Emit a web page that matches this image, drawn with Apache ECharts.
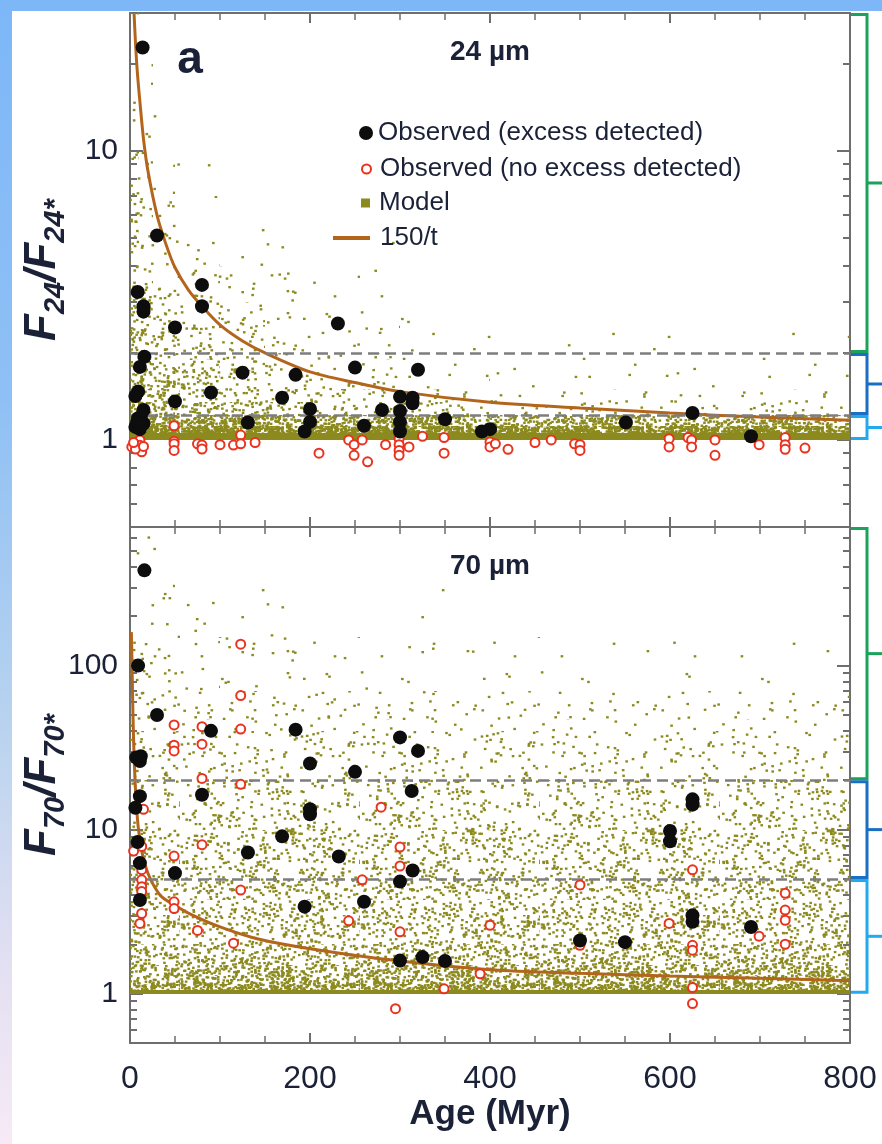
<!DOCTYPE html>
<html>
<head>
<meta charset="utf-8">
<script src="https://cdn.jsdelivr.net/npm/echarts@6.0.0/dist/echarts.min.js"></script>
<style>
  html, body { margin: 0; padding: 0; }
  body { width: 882px; height: 1144px; position: relative; overflow: hidden;
    background: linear-gradient(180deg, #7db7f8 0%, #8fc0f5 35%, #b6d2ef 62%, #e4e0f2 85%, #f6eaf6 100%); }
  #paper { position: absolute; left: 12px; top: 11px; width: 870px; height: 1133px; background: #fff; }
  #main { position: absolute; left: 0; top: 0; width: 882px; height: 1144px; }
</style>
</head>
<body>
<div id="paper"></div>
<div id="main"></div>
<script>
// ---- data: [age (Myr), flux ratio] ----
var obs24Excess = [[14,22.8],[30,5.1],[8.5,3.25],[15,2.9],[15,2.78],[80,3.44],[80,2.9],[50,2.45],[231,2.53],
  [16,1.94],[11,1.79],[125,1.71],[184,1.68],[250,1.78],[320,1.75],[9,1.47],[6,1.42],[50,1.36],[90,1.46],
  [169,1.40],[300,1.41],[314,1.40],[314,1.34],[15,1.27],[9,1.19],[12,1.2],[15,1.14],[8,1.15],[6,1.11],[11,1.09],
  [13,1.13],[131,1.15],[200,1.28],[200,1.155],[194,1.07],[280,1.27],[260,1.12],[300,1.26],[300,1.155],[300,1.07],
  [350,1.18],[391,1.07],[400,1.09],[551,1.15],[625,1.24],[690,1.03]];
var obs24NoExcess = [[11,1.0],[11,0.958],[13,0.91],[2,0.946],[6,0.93],[4,0.98],[15,0.95],[49,1.12],[49,0.99],
  [49,0.97],[49,0.92],[75,0.97],[80,0.96],[80,0.93],[100,0.963],[115,0.96],[123,1.04],[123,0.97],[139,0.98],
  [210,0.90],[243,1.0],[249,0.963],[249,0.885],[258,1.0],[264,0.84],[284,0.963],[299,1.01],[299,0.963],[299,0.92],
  [299,0.885],[310,0.946],[325,1.03],[349,1.02],[349,0.90],[400,0.984],[400,0.946],[406,0.97],[420,0.928],
  [450,0.98],[468,1.0],[494,0.97],[500,0.963],[500,0.92],[599,1.01],[599,0.946],[620,1.02],[624,1.0],[624,0.946],
  [650,1.0],[650,0.885],[699,0.963],[728,1.02],[728,0.963],[728,0.928],[750,0.938]];
var obs70Excess = [[16,381],[9,100],[30,50],[90,40],[184,40.7],[300,36.5],[320,30.2],[12,28],[11,26.2],[7,27.5],
  [200,25.3],[250,22.5],[313,17.2],[80,16.3],[11,16],[6,13.6],[200,13.3],[200,12.4],[169,9.1],[131,7.25],
  [232,6.86],[8.5,8.4],[11,6.25],[50,5.43],[314,5.63],[300,4.82],[11,3.72],[194,3.39],[260,3.63],[300,1.59],
  [325,1.67],[350,1.58],[625,15.3],[625,14.2],[600,9.8],[600,8.5],[625,3.0],[625,2.74],[500,2.11],[550,2.06],
  [690,2.55]];
var obs70NoExcess = [[123,135],[123,65.7],[123,41],[123,18.9],[123,4.28],[49,43.5],[49,32.7],[49,30.2],[80,42.4],
  [80,33.2],[80,20.5],[80,8.1],[49,6.9],[49,3.63],[49,3.3],[75,2.43],[115,2.03],[15,13.3],[4,7.4],[13,7.9],
  [13,5.7],[13,4.94],[13,4.49],[13,4.19],[13,3.08],[11,2.68],[279,13.7],[300,7.83],[300,6.0],[258,4.94],
  [243,2.78],[300,2.38],[389,1.32],[349,1.07],[295,0.81],[400,2.61],[500,4.6],[500,1.97],[599,2.68],[625,5.69],
  [625,1.97],[625,1.84],[625,1.09],[625,0.87],[699,2.24],[728,4.09],[728,3.23],[728,2.8],[728,2.0]];

// 150/t curves as drawn in each panel
var curveAges24 = [4.5, 6, 8, 11, 15, 20, 30, 40, 50, 65, 80, 100, 125, 150, 200, 250, 300, 400, 500, 600, 700, 800];
var curveRatio24 = [30, 24, 19, 14.8, 11, 8.5, 6, 4.75, 3.95, 3.3, 2.9, 2.5, 2.2, 2.0, 1.72, 1.58, 1.47, 1.35, 1.29, 1.24, 1.2, 1.17];
var curveAges70 = [1.5, 2, 3, 4, 5, 6, 7, 9, 12, 15, 20, 27, 35, 50, 70, 100, 140, 200, 300, 400, 500, 600, 700, 800];
var curveRatio70 = [160, 120, 60, 35, 24, 18, 14.5, 10.5, 8, 6.6, 5.4, 4.5, 3.9, 3.45, 3.0, 2.55, 2.17, 1.88, 1.58, 1.4, 1.33, 1.28, 1.24, 1.2];

// dashed thresholds and bracket ranges
var thresholds24 = [2, 1.22];
var thresholds70 = [20, 5];
var brackets24 = [[2, 30], [1.22, 2], [1, 1.22]];
var brackets70 = [[20, 700], [5, 20], [1, 5]];

// model cloud: fraction of area covered by model points, per (age bin, ratio bin), rows bottom -> top
var xEdges24 = [0, 10, 25, 50, 100, 150, 200, 300, 400, 500, 600, 700, 800];
var yEdges24 = [1, 1.06, 1.12, 1.22, 1.35, 1.5, 1.75, 2, 2.5, 3, 4, 5, 7, 10, 20, 30];
var density24 = [
  [1, 1, 1, 1, 1, 1, 1, 1, 1, 1, 1, 1],
  [0.88, 0.88, 0.86, 0.86, 0.85, 0.85, 0.84, 0.82, 0.82, 0.82, 0.82, 0.82],
  [0.68, 0.68, 0.65, 0.62, 0.6, 0.58, 0.55, 0.52, 0.5, 0.5, 0.5, 0.5],
  [0.45, 0.43, 0.4, 0.34, 0.28, 0.22, 0.15, 0.1, 0.07, 0.06, 0.06, 0.06],
  [0.38, 0.35, 0.32, 0.26, 0.2, 0.15, 0.1, 0.05, 0.03, 0.03, 0.03, 0.03],
  [0.32, 0.29, 0.26, 0.21, 0.14, 0.1, 0.06, 0.02, 0.012, 0.01, 0.01, 0.01],
  [0.28, 0.25, 0.22, 0.17, 0.1, 0.07, 0.04, 0.012, 0.006, 0.006, 0.006, 0.006],
  [0.24, 0.2, 0.17, 0.11, 0.07, 0.05, 0.025, 0.006, 0.003, 0.003, 0.002, 0.002],
  [0.2, 0.17, 0.13, 0.08, 0.05, 0.03, 0.015, 0.004, 0, 0, 0, 0],
  [0.17, 0.13, 0.09, 0.05, 0.025, 0.015, 0.008, 0, 0, 0, 0, 0],
  [0.14, 0.1, 0.06, 0.025, 0.01, 0.006, 0.004, 0, 0, 0, 0, 0],
  [0.11, 0.07, 0.035, 0.012, 0.004, 0, 0, 0, 0, 0, 0, 0],
  [0.08, 0.04, 0.015, 0.005, 0, 0, 0, 0, 0, 0, 0, 0],
  [0.03, 0.012, 0.004, 0, 0, 0, 0, 0, 0, 0, 0, 0],
  [0.012, 0.003, 0, 0, 0, 0, 0, 0, 0, 0, 0, 0]
];
var xEdges70 = [0, 25, 50, 100, 200, 350, 500, 650, 800];
var yEdges70 = [1, 1.05, 1.15, 1.3, 1.5, 2, 3, 5, 10, 20, 40, 70, 150, 300, 700];
var density70 = [
  [1, 1, 1, 1, 1, 1, 1, 1],
  [0.62, 0.62, 0.62, 0.62, 0.62, 0.62, 0.62, 0.62],
  [0.5, 0.5, 0.5, 0.5, 0.5, 0.5, 0.5, 0.5],
  [0.4, 0.4, 0.4, 0.4, 0.4, 0.4, 0.4, 0.4],
  [0.3, 0.3, 0.3, 0.3, 0.3, 0.3, 0.3, 0.3],
  [0.23, 0.23, 0.23, 0.23, 0.23, 0.23, 0.23, 0.23],
  [0.18, 0.18, 0.18, 0.18, 0.18, 0.18, 0.18, 0.18],
  [0.15, 0.15, 0.15, 0.15, 0.15, 0.15, 0.15, 0.15],
  [0.12, 0.12, 0.12, 0.12, 0.12, 0.12, 0.12, 0.12],
  [0.08, 0.08, 0.08, 0.075, 0.07, 0.065, 0.06, 0.06],
  [0.055, 0.055, 0.05, 0.045, 0.04, 0.035, 0.03, 0.03],
  [0.04, 0.035, 0.03, 0.02, 0.012, 0.008, 0.005, 0.004],
  [0.03, 0.02, 0.012, 0.005, 0.002, 0, 0, 0],
  [0.012, 0.005, 0.002, 0, 0, 0, 0, 0]
];

// tick values
var majors24 = [1, 10];
var minors24 = [0.5, 0.6, 0.7, 0.8, 0.9, 2, 3, 4, 5, 6, 7, 8, 9, 20, 30];
var majors70 = [1, 10, 100];
var minors70 = [0.5, 0.6, 0.7, 0.8, 0.9, 2, 3, 4, 5, 6, 7, 8, 9, 20, 30, 40, 50, 60, 70, 80, 90, 200, 300, 400, 500, 600, 700];

// ---- styling ----
var FONT = '"Liberation Sans", Arial, sans-serif';
var INK = '#1b2238';
var FRAME = '#6e6e6e';
var OLIVE = '#8c8a1e';
var RED = '#e8331f';
var BROWN = '#b4651c';
var bracketColors = ['#19a35b', '#1b6fc2', '#22aaf0'];

// speckle texture used to paint the model cloud cells (fixed hash, same every run)
function speck(n) { var s = Math.sin(n * 12.9898 + 78.233) * 43758.5453; return s - Math.floor(s); }
var tileCache = {};
function dotTile(cover) {
  var key = cover.toFixed(4);
  if (tileCache[key]) return tileCache[key];
  var size = 180, dotArea = 2.6 * 2.3;
  var cv = document.createElement('canvas');
  cv.width = cv.height = size;
  var ctx = cv.getContext('2d');
  ctx.fillStyle = OLIVE;
  if (cover >= 1) {
    ctx.fillRect(0, 0, size, size);
  } else {
    // number of specks that gives the wanted covered fraction
    var n = Math.round(-Math.log(1 - cover) * size * size / dotArea);
    for (var i = 0; i < n; i++) {
      ctx.fillRect(speck(2 * i + 1) * size, speck(2 * i + 2) * size, 2.6, 2.3);
    }
  }
  tileCache[key] = { image: cv, repeat: 'repeat' };
  return tileCache[key];
}

function cellData(xEdges, yEdges, dens) {
  var out = [];
  for (var r = 0; r < yEdges.length - 1; r++) {
    for (var c = 0; c < xEdges.length - 1; c++) {
      if (dens[r][c] > 0) out.push([xEdges[c], xEdges[c + 1], yEdges[r], yEdges[r + 1], dens[r][c]]);
    }
  }
  return out;
}

function modelSeries(g, xEdges, yEdges, dens) {
  return {
    type: 'custom', name: 'Model', xAxisIndex: g * 2, yAxisIndex: g * 4,
    silent: true, z: 1, clip: true,
    encode: { x: [0, 1], y: [2, 3] },
    data: cellData(xEdges, yEdges, dens),
    renderItem: function (params, api) {
      var p0 = api.coord([api.value(0), api.value(3)]);
      var p1 = api.coord([api.value(1), api.value(2)]);
      var x0 = Math.round(p0[0]), y0 = Math.round(p0[1]);
      return {
        type: 'rect',
        shape: { x: x0, y: y0, width: Math.round(p1[0]) - x0, height: Math.round(p1[1]) - y0 },
        style: { fill: dotTile(api.value(4)) }
      };
    }
  };
}

function bracketSeries(g, ranges) {
  return {
    type: 'custom', xAxisIndex: g * 2, yAxisIndex: g * 4, silent: true, clip: false, z: 10,
    data: ranges.map(function (r, i) { return [800, r[0], r[1], i]; }),
    renderItem: function (params, api) {
      var lo = api.coord([api.value(0), api.value(1)]);
      var hi = api.coord([api.value(0), api.value(2)]);
      var mid = api.coord([api.value(0), Math.sqrt(api.value(1) * api.value(2))]);
      var x0 = lo[0] + 1, x1 = lo[0] + 17, x2 = x1 + 18;
      var col = bracketColors[api.value(3)];
      return {
        type: 'group',
        children: [
          { type: 'polyline', shape: { points: [[x0, hi[1] + 1.5], [x1, hi[1] + 1.5], [x1, lo[1] - 1.5], [x0, lo[1] - 1.5]] },
            style: { stroke: col, lineWidth: 3, fill: null } },
          { type: 'line', shape: { x1: x1, y1: mid[1], x2: x2, y2: mid[1] }, style: { stroke: col, lineWidth: 3 } }
        ]
      };
    }
  };
}

function zip(a, b) { return a.map(function (v, i) { return [v, b[i]]; }); }

function curveSeries(g, ages, ratios, thresholds) {
  return {
    type: 'line', name: '150/t', xAxisIndex: g * 2, yAxisIndex: g * 4,
    data: zip(ages, ratios), symbol: 'none', smooth: 0.3, z: 4,
    lineStyle: { color: BROWN, width: 3 }, itemStyle: { color: BROWN },
    markLine: {
      silent: true, symbol: 'none', label: { show: false }, animation: false,
      lineStyle: { color: '#7d7d7d', type: [11, 6], width: 2.5 },
      data: thresholds.map(function (t) { return { yAxis: t }; })
    }
  };
}

function redSeries(g, data) {
  return {
    type: 'scatter', name: 'Observed (no excess detected)', xAxisIndex: g * 2, yAxisIndex: g * 4,
    data: data, symbol: 'circle', symbolSize: 9, z: 5,
    itemStyle: { color: '#fff', borderColor: RED, borderWidth: 2, opacity: 1 }
  };
}

function blackSeries(g, data) {
  return {
    type: 'scatter', name: 'Observed (excess detected)', xAxisIndex: g * 2, yAxisIndex: g * 4,
    data: data, symbol: 'circle', symbolSize: 14, z: 6,
    itemStyle: { color: '#0d0d0d', opacity: 1 }
  };
}

var lineStyle = { color: FRAME, width: 2 };

function xAxes(g, withLabels) {
  function ax(pos) {
    var a = {
      type: 'value', gridIndex: g, position: pos, min: 0, max: 800, interval: 200,
      axisLine: { show: true, onZero: false, lineStyle: lineStyle },
      axisTick: { show: true, inside: true, length: 10, lineStyle: lineStyle },
      minorTick: { show: true, splitNumber: 4, length: 7, lineStyle: { color: FRAME, width: 1.5 } },
      splitLine: { show: false }, minorSplitLine: { show: false },
      axisLabel: { show: false }
    };
    if (withLabels && pos === 'bottom') {
      a.axisLabel = { show: true, fontSize: 32, color: INK, fontFamily: FONT, margin: 20 };
      a.name = 'Age (Myr)';
      a.nameLocation = 'middle';
      a.nameGap = 54;
      a.nameMoveOverlap = false;
      a.nameTextStyle = { fontSize: 35, fontWeight: 'bold', color: INK, fontFamily: FONT };
    }
    return a;
  }
  return [ax('bottom'), ax('top')];
}

function yAxes(g, min, max, majors, minors, sub) {
  function ax(pos, vals, len, main) {
    var a = {
      type: 'log', logBase: 10, gridIndex: g, position: pos, min: min, max: max,
      axisLine: { show: main, onZero: false, lineStyle: lineStyle },
      axisTick: { show: true, inside: true, length: len, customValues: vals, lineStyle: lineStyle },
      minorTick: { show: false }, splitLine: { show: false },
      axisLabel: { show: false }
    };
    if (main && pos === 'left') {
      a.axisLabel = { show: true, customValues: vals, fontSize: 30, color: INK, fontFamily: FONT, margin: 12 };
      a.name = '{f|F}{s|' + sub + '}{f|/F}{s|' + sub + '*}';
      a.nameLocation = 'middle';
      a.nameRotate = 90;
      a.nameGap = 60;
      a.nameMoveOverlap = false;
      a.nameTextStyle = {
        rich: {
          f: { fontSize: 44, fontWeight: 'bold', fontStyle: 'italic', color: INK, fontFamily: FONT, lineHeight: 54 },
          s: { fontSize: 29, fontWeight: 'bold', fontStyle: 'italic', color: INK, fontFamily: FONT, verticalAlign: 'bottom' }
        }
      };
    }
    return a;
  }
  return [ax('left', majors, 13, true), ax('left', minors, 7, false),
          ax('right', majors, 13, true), ax('right', minors, 7, false)];
}

var legendText = { fontSize: 26, color: INK, fontFamily: FONT };

var chart = echarts.init(document.getElementById('main'), null, { renderer: 'canvas' });
chart.setOption({
  backgroundColor: 'transparent',
  animation: false,
  grid: [
    { left: 130, top: 13, width: 720, height: 514, outerBoundsMode: 'none' },
    { left: 130, top: 527, width: 720, height: 516, outerBoundsMode: 'none' }
  ],
  xAxis: xAxes(0, false).concat(xAxes(1, true)),
  yAxis: yAxes(0, 0.5, 30, majors24, minors24, '24').concat(yAxes(1, 0.5, 700, majors70, minors70, '70')),
  legend: [
    { data: [{ name: 'Observed (excess detected)', icon: 'circle', itemStyle: { color: '#0d0d0d' } }],
      left: 354, top: 115, itemWidth: 14, itemHeight: 14, selectedMode: false, textStyle: legendText },
    { data: [{ name: 'Observed (no excess detected)', icon: 'circle',
               itemStyle: { color: '#fff', borderColor: RED, borderWidth: 2 } }],
      left: 356, top: 151, itemWidth: 9, itemHeight: 9, selectedMode: false,
      textStyle: Object.assign({ padding: [0, 0, 0, 4] }, legendText) },
    { data: [{ name: 'Model', icon: 'rect', itemStyle: { color: OLIVE } }],
      left: 356, top: 185, itemWidth: 9, itemHeight: 9, selectedMode: false,
      textStyle: Object.assign({ padding: [0, 0, 0, 4] }, legendText) },
    { data: [{ name: '150/t', icon: 'rect', itemStyle: { color: BROWN } }],
      left: 328, top: 220, itemWidth: 37, itemHeight: 4, selectedMode: false,
      textStyle: Object.assign({ padding: [0, 0, 0, 5] }, legendText) }
  ],
  graphic: [
    { type: 'text', x: 490, y: 52, silent: true,
      style: { text: '24 µm', align: 'center', verticalAlign: 'middle', fill: INK,
               font: 'bold 28px "Liberation Sans", Arial, sans-serif' } },
    { type: 'text', x: 490, y: 566, silent: true,
      style: { text: '70 µm', align: 'center', verticalAlign: 'middle', fill: INK,
               font: 'bold 28px "Liberation Sans", Arial, sans-serif' } },
    { type: 'text', x: 190, y: 60, silent: true,
      style: { text: 'a', align: 'center', verticalAlign: 'middle', fill: INK,
               font: 'bold 46px "Liberation Sans", Arial, sans-serif' } }
  ],
  series: [
    modelSeries(0, xEdges24, yEdges24, density24),
    modelSeries(1, xEdges70, yEdges70, density70),
    curveSeries(0, curveAges24, curveRatio24, thresholds24),
    curveSeries(1, curveAges70, curveRatio70, thresholds70),
    redSeries(0, obs24NoExcess),
    redSeries(1, obs70NoExcess),
    blackSeries(0, obs24Excess),
    blackSeries(1, obs70Excess),
    bracketSeries(0, brackets24),
    bracketSeries(1, brackets70)
  ]
});
</script>
</body>
</html>
